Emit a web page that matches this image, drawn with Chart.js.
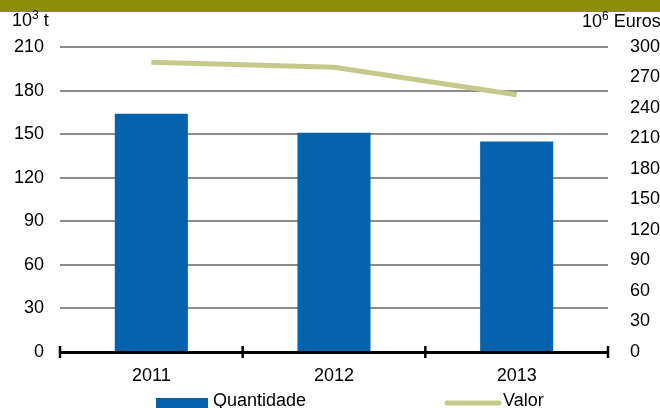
<!DOCTYPE html>
<html>
<head>
<meta charset="utf-8">
<script src="https://cdn.jsdelivr.net/npm/chart.js@4/dist/chart.umd.min.js"></script>
<style>
  html, body { margin: 0; padding: 0; background: #fff; }
  #wrap { position: relative; width: 660px; height: 408px; overflow: hidden; }
</style>
</head>
<body>
<div id="wrap"><canvas id="chart" width="660" height="408"></canvas></div>
<script>
const years = ["2011", "2012", "2013"];
const quantidade = [164, 151, 145];   // 10^3 t
const valor = [285, 280, 253];        // 10^6 Euros
const leftTicks = [0, 30, 60, 90, 120, 150, 180, 210];
const rightTicks = [0, 30, 60, 90, 120, 150, 180, 210, 240, 270, 300];

const FONT = "'Liberation Sans', Arial, sans-serif";
const BLUE = "#0562ad";
const OLIVE = "#c5ca8a";

/* ========= EXTRA DRAWING ========= */

function drawUnit(ctx, x, y, base, sup, rest) {
  ctx.font = `18px ${FONT}`;
  ctx.fillText(base, x, y);
  x += ctx.measureText(base).width;
  ctx.font = `12px ${FONT}`;
  ctx.fillText(sup, x, y - 5);
  x += ctx.measureText(sup).width;
  ctx.font = `18px ${FONT}`;
  ctx.fillText(rest, x, y);
}

const decorations = {
  id: "decorations",
  beforeDraw(chart) {
    const ctx = chart.ctx;
    ctx.save();
    // banner strip at the top
    ctx.fillStyle = "#8c8e0c";
    ctx.fillRect(0, 0, 660, 12);
    ctx.restore();
  },
  afterDraw(chart) {
    const ctx = chart.ctx;
    const area = chart.chartArea;
    ctx.save();

    // tick marks across the category axis
    const n = years.length;
    ctx.strokeStyle = "#000";
    ctx.lineWidth = 2.5;
    for (let i = 0; i <= n; i++) {
      const x = area.left + i * (area.right - area.left) / n;
      ctx.beginPath();
      ctx.moveTo(x, area.bottom - 6);
      ctx.lineTo(x, area.bottom + 6);
      ctx.stroke();
    }

    // axis units
    ctx.fillStyle = "#000";
    ctx.textBaseline = "middle";
    ctx.textAlign = "left";
    drawUnit(ctx, 12, 21, "10", "3", " t");
    drawUnit(ctx, 582, 22, "10", "6", " Euros");

    // legend
    const bars = chart.data.datasets.find(d => d.type === "bar");
    const line = chart.data.datasets.find(d => d.type === "line");
    ctx.font = `18px ${FONT}`;
    ctx.textBaseline = "alphabetic";
    ctx.fillStyle = bars.backgroundColor;
    ctx.fillRect(156, 398, 52, 14);
    ctx.fillStyle = "#000";
    ctx.fillText(bars.label, 213, 406);

    ctx.strokeStyle = line.borderColor;
    ctx.lineWidth = 5;
    ctx.lineCap = "round";
    ctx.beginPath();
    ctx.moveTo(447, 403);
    ctx.lineTo(499, 403);
    ctx.stroke();
    ctx.fillText(line.label, 503, 406);

    ctx.restore();
  }
};

/* ========= CHART ========= */

new Chart(document.getElementById("chart"), {
  data: {
    labels: years,
    datasets: [
      {
        type: "bar",
        label: "Quantidade",
        data: quantidade,
        yAxisID: "y",
        backgroundColor: BLUE,
        barPercentage: 0.4,
        categoryPercentage: 1,
        order: 1
      },
      {
        type: "line",
        label: "Valor",
        data: valor,
        yAxisID: "y1",
        borderColor: OLIVE,
        backgroundColor: OLIVE,
        borderWidth: 5,
        pointRadius: 0,
        tension: 0,
        order: 0
      }
    ]
  },
  options: {
    responsive: false,
    animation: false,
    layout: { padding: { top: 47, bottom: 26, left: 0, right: 0 } },
    plugins: { legend: { display: false }, tooltip: { enabled: false } },
    scales: {
      x: {
        offset: true,
        grid: { display: false, drawTicks: false },
        border: { display: true, color: "#000", width: 3 },
        ticks: { color: "#000", font: { family: FONT, size: 18 }, padding: 13 },
        afterFit(scale) { scale.height = 30; }
      },
      y: {
        position: "left",
        min: 0,
        max: 210,
        afterBuildTicks(scale) { scale.ticks = leftTicks.map(v => ({ value: v })); },
        grid: {
          color: ctx => (ctx.tick && ctx.tick.value === 0 ? "rgba(0,0,0,0)" : "#8c8c8c"),
          lineWidth: 2,
          drawTicks: false
        },
        border: { display: false },
        ticks: { color: "#000", font: { family: FONT, size: 18 }, padding: 16 },
        afterFit(scale) { scale.width = 60; }
      },
      y1: {
        position: "right",
        min: 0,
        max: 300,
        afterBuildTicks(scale) { scale.ticks = rightTicks.map(v => ({ value: v })); },
        grid: { display: false, drawTicks: false },
        border: { display: false },
        ticks: { color: "#000", font: { family: FONT, size: 18 }, padding: 22 },
        afterFit(scale) { scale.width = 52; }
      }
    }
  },
  plugins: [decorations]
});
</script>
</body>
</html>
